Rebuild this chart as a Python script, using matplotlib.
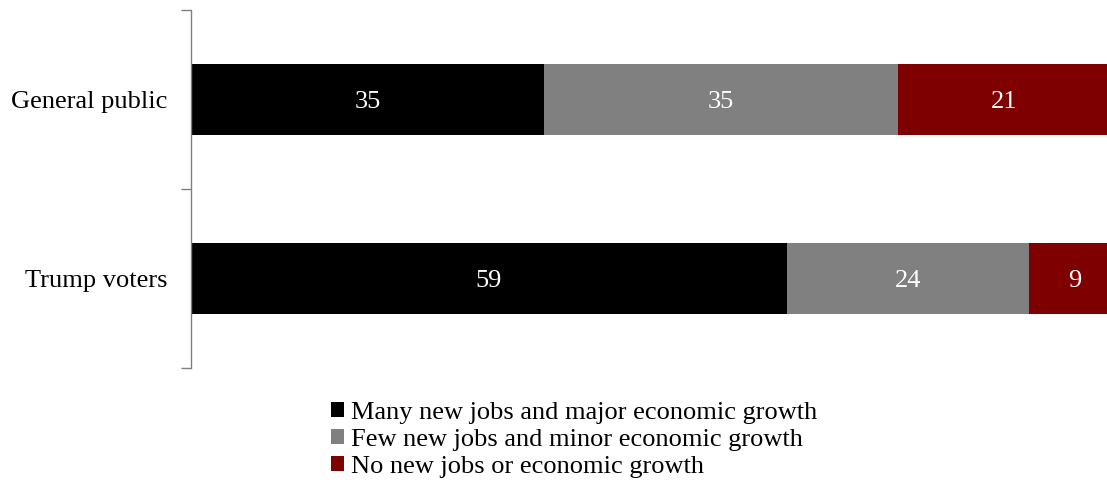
import numpy as np
import matplotlib.pyplot as plt

groups = ['General public', 'Trump voters']
series_names = ['Many new jobs and major economic growth',
                'Few new jobs and minor economic growth',
                'No new jobs or economic growth']
many_growth = [35, 59]
few_growth = [35, 24]
no_growth = [21, 9]

colors = ['#000000', '#808080', '#7f0000']

plt.rcParams['font.family'] = ['Liberation Serif', 'DejaVu Serif']

fig = plt.figure(figsize=(11.07, 4.8), dpi=100)
ax = fig.add_axes([191 / 1107, 112 / 480, 916 / 1107, 358 / 480])

ypos = np.arange(len(groups))
left = np.zeros(len(groups))
for vals, name, col in zip([many_growth, few_growth, no_growth], series_names, colors):
    vals = np.array(vals, dtype=float)
    bars = ax.barh(ypos, vals, left=left, height=0.4, color=col, label=name)
    for b, v in zip(bars, vals):
        ax.text(b.get_x() + b.get_width() / 2, b.get_y() + b.get_height() / 2,
                f'{v:.0f}', color='white', ha='center', va='center_baseline',
                fontsize=19)
    left += vals

ax.set_xlim(0, 90.7)
ax.set_ylim(1.5, -0.5)

for s in ['top', 'right', 'bottom']:
    ax.spines[s].set_visible(False)
ax.spines['left'].set_color('#808080')
ax.spines['left'].set_linewidth(1.0)
ax.set_xticks([])

# ticks sit on the category boundaries, labels in between
ax.set_yticks([-0.5, 0.5, 1.5])
ax.set_yticklabels([])
ax.tick_params(axis='y', which='major', length=7, color='#808080', width=1.0)
ax.set_yticks(ypos, minor=True)
ax.set_yticklabels(groups, minor=True, fontsize=19)
ax.tick_params(axis='y', which='minor', length=0, pad=17)

leg = fig.legend(loc='upper center', frameon=False, fontsize=19,
                 handlelength=0.5, handleheight=0.5, handletextpad=0.25,
                 labelspacing=0.19, borderaxespad=0, borderpad=0)
leg.set_bbox_to_anchor((574 / 1107, 78 / 480), transform=fig.transFigure)

fig.savefig('out.png', dpi=100)
